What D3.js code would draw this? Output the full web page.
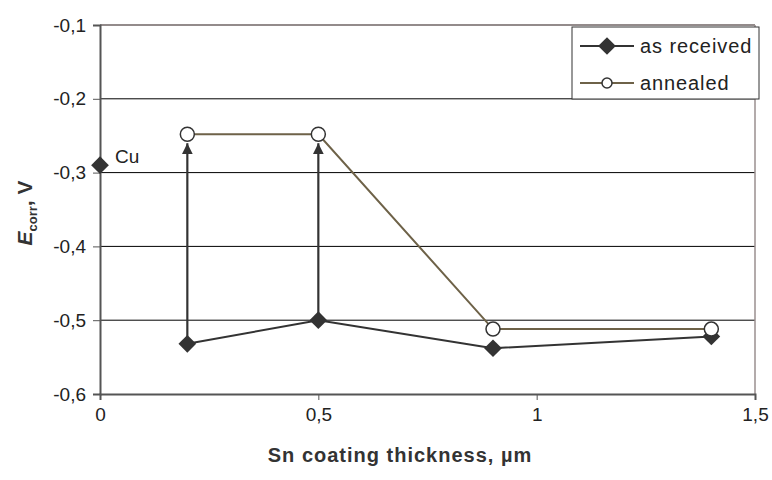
<!DOCTYPE html>
<html>
<head>
<style>
  body {margin: 0; background: #fff;}
  * {font-family: "Liberation Sans", Arial, sans-serif;}
</style>
<script src="https://d3js.org/d3.v7.min.js"></script>
</head>
<body>
<div id="chart"></div>
<script>
  // data
  const thickness = [0.2, 0.5, 0.9, 1.4]
  const asReceived = [-0.532, -0.5, -0.538, -0.522]
  const annealed = [-0.248, -0.248, -0.512, -0.512]
  const cuPoint = {x: 0, y: -0.29, label: "Cu"}
  const xTicks = [0, 0.5, 1, 1.5]
  const yTicks = [-0.6, -0.5, -0.4, -0.3, -0.2, -0.1]

  const w = 772, h = 480
  const margin = {top: 25, right: 17, bottom: 86, left: 100}

  const svg = d3.select("#chart").append("svg")
      .attr("width", w).attr("height", h)

  const x = d3.scaleLinear().domain([0, 1.5]).range([margin.left, w - margin.right])
  const y = d3.scaleLinear().domain([-0.6, -0.1]).range([h - margin.bottom, margin.top])
  const fmt = d => String(d).replace(".", ",")

  // grid lines
  svg.append("g").selectAll("line")
    .data(yTicks.slice(1))
    .join("line")
      .attr("x1", x(0)).attr("x2", x(1.5))
      .attr("y1", d => y(d)).attr("y2", d => y(d))
      .style("stroke", "#000").style("stroke-width", 1)

  // frame right and top
  svg.append("line")
    .attr("x1", x(1.5)).attr("x2", x(1.5)).attr("y1", y(-0.1)).attr("y2", y(-0.6))
    .style("stroke", "#9a8f8f").style("stroke-width", 1.5)
  svg.append("line")
    .attr("x1", x(0)).attr("x2", x(1.5)).attr("y1", y(-0.1)).attr("y2", y(-0.1))
    .style("stroke", "#9a8f8f").style("stroke-width", 1.5)

  const yAxis = svg.append("g")
    .attr("transform", "translate(" + x(0) + ",0)")
    .call(d3.axisLeft(y).tickValues(yTicks).tickFormat(fmt).tickSize(7).tickPadding(7))
  const xAxis = svg.append("g")
    .attr("transform", "translate(0," + y(-0.6) + ")")
    .call(d3.axisBottom(x).tickValues(xTicks).tickFormat(fmt).tickSize(6).tickPadding(8))

  ;[yAxis, xAxis].forEach(a => {
    a.select(".domain").style("stroke", "#555").style("stroke-width", 2)
    a.selectAll(".tick line").style("stroke", "#555")
    a.selectAll("text").style("font-size", "19px").style("fill", "#222")
  })

  // arrows from as received to annealed
  svg.append("defs").append("marker")
      .attr("id", "arrow")
      .attr("viewBox", "0 0 10 10")
      .attr("refX", 10).attr("refY", 5)
      .attr("markerWidth", 5).attr("markerHeight", 5)
      .attr("markerUnits", "strokeWidth")
      .attr("orient", "auto")
    .append("path")
      .attr("d", "M0,0 L10,5 L0,10 z")
      .style("fill", "#333")

  thickness.forEach((t, i) => {
    if (annealed[i] - asReceived[i] > 0.1) {
      svg.append("line")
        .attr("x1", x(t)).attr("x2", x(t))
        .attr("y1", y(asReceived[i]) - 6).attr("y2", y(annealed[i]) + 9)
        .style("stroke", "#333").style("stroke-width", 2.2)
        .attr("marker-end", "url(#arrow)")
    }
  })

  const line = d3.line().x(d => x(d[0])).y(d => y(d[1]))

  svg.append("path")
    .datum(thickness.map((t, i) => [t, annealed[i]]))
    .attr("d", line)
    .style("fill", "none").style("stroke", "#6e6248").style("stroke-width", 2)

  svg.append("path")
    .datum(thickness.map((t, i) => [t, asReceived[i]]))
    .attr("d", line)
    .style("fill", "none").style("stroke", "#333").style("stroke-width", 2)

  const diamond = d3.symbol().type(d3.symbolDiamond2).size(200)

  svg.append("g").selectAll("path")
    .data(thickness.map((t, i) => [t, asReceived[i]]))
    .join("path")
      .attr("d", diamond)
      .attr("transform", d => "translate(" + x(d[0]) + "," + y(d[1]) + ")")
      .style("fill", "#333")

  svg.append("g").selectAll("circle")
    .data(thickness.map((t, i) => [t, annealed[i]]))
    .join("circle")
      .attr("cx", d => x(d[0])).attr("cy", d => y(d[1]))
      .attr("r", 7)
      .style("fill", "#fff").style("stroke", "#333").style("stroke-width", 1.5)

  // Cu reference point
  svg.append("path")
    .attr("d", diamond)
    .attr("transform", "translate(" + x(cuPoint.x) + "," + y(cuPoint.y) + ")")
    .style("fill", "#333")
  svg.append("text")
    .attr("x", x(cuPoint.x) + 15).attr("y", y(cuPoint.y) - 2)
    .style("font-size", "19px").style("fill", "#222")
    .text(cuPoint.label)

  // axis titles
  svg.append("text")
    .attr("x", 400).attr("y", 462)
    .attr("text-anchor", "middle")
    .style("font-size", "20px").style("font-weight", "bold").style("fill", "#333")
    .style("letter-spacing", "1px")
    .text("Sn coating thickness, µm")

  const yt = svg.append("text")
    .attr("transform", "translate(32,213) rotate(-90)")
    .attr("text-anchor", "middle")
    .style("font-size", "21px").style("font-weight", "bold").style("fill", "#333")
  yt.append("tspan").style("font-style", "italic").text("E")
  yt.append("tspan").attr("dy", 5).style("font-size", "13px").text("corr")
  yt.append("tspan").attr("dy", -5).text(", V")

  // legend
  const legend = svg.append("g")
  legend.append("rect")
    .attr("x", 572).attr("y", 27).attr("width", 187).attr("height", 72)
    .style("fill", "#fff").style("stroke", "#333").style("stroke-width", 1)

  const legendItems = [
    {label: "as received", color: "#333", mark: "diamond", y: 46},
    {label: "annealed", color: "#6e6248", mark: "circle", y: 83}
  ]
  legendItems.forEach(it => {
    legend.append("line")
      .attr("x1", 580).attr("x2", 634).attr("y1", it.y).attr("y2", it.y)
      .style("stroke", it.color).style("stroke-width", 2)
    if (it.mark == "diamond") {
      legend.append("path").attr("d", diamond)
        .attr("transform", "translate(607," + it.y + ")")
        .style("fill", "#333")
    } else {
      legend.append("circle").attr("cx", 607).attr("cy", it.y).attr("r", 5)
        .style("fill", "#fff").style("stroke", "#333").style("stroke-width", 1.5)
    }
    legend.append("text")
      .attr("x", 640).attr("y", it.y + 7)
      .style("font-size", "20px").style("fill", "#222")
      .style("letter-spacing", "0.9px")
      .text(it.label)
  })
</script>
</body>
</html>
